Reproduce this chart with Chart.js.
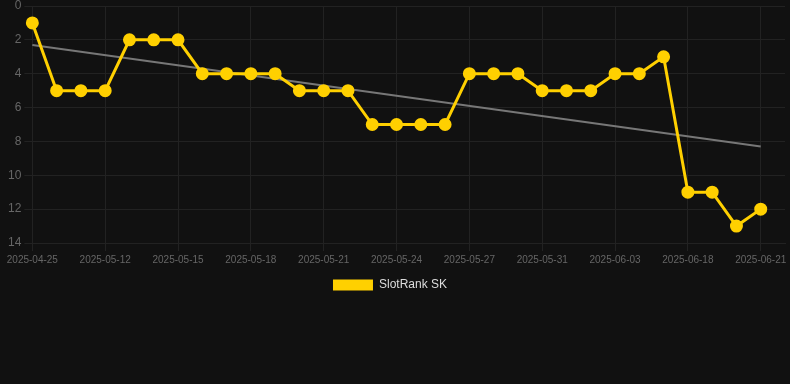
<!DOCTYPE html>
<html>
<head>
<meta charset="utf-8">
<script src="https://cdn.jsdelivr.net/npm/chart.js@4"></script>
<style>
    html, body { margin: 0; padding: 0; background: #111111; }
    #wrap { position: relative; width: 790px; height: 301px; }
</style>
</head>
<body>
<div id="wrap"><canvas id="rankChart"></canvas></div>
<script>
var dates = ["2025-04-25", "2025-05-10", "2025-05-11", "2025-05-12", "2025-05-13", "2025-05-14",
    "2025-05-15", "2025-05-16", "2025-05-17", "2025-05-18", "2025-05-19", "2025-05-20",
    "2025-05-21", "2025-05-22", "2025-05-23", "2025-05-24", "2025-05-25", "2025-05-26",
    "2025-05-27", "2025-05-28", "2025-05-29", "2025-05-31", "2025-06-01", "2025-06-02",
    "2025-06-03", "2025-06-04", "2025-06-10", "2025-06-18", "2025-06-19", "2025-06-20",
    "2025-06-21", "2025-06-22"];
var ranks = [1, 5, 5, 5, 2, 2, 2, 4, 4, 4, 4, 5, 5, 5, 7, 7, 7, 7, 4, 4, 4, 5, 5, 5, 4, 4, 3, 11, 11, 13, 12, null];
// trend line ends; spanGaps joins them
var trend = [2.3, null, null, null, null, null, null, null, null, null, null, null, null, null, null,
    null, null, null, null, null, null, null, null, null, null, null, null, null, null, null, 8.3, null];
var yTicks = [0, 2, 4, 6, 8, 10, 12, 14];

var gridColor = "#222222";
var tickColor = "#666666";
var fontFamily = "Liberation Sans, Arial, sans-serif";

// nudge the legend a little to the left
var legendShift = {
    id: 'legendShift',
    afterLayout: function (chart) {
        if (chart.legend) {
            chart.legend.left -= 5;
            chart.legend.right -= 5;
        }
    }
};

var rankChart = new Chart(document.getElementById("rankChart"), {
    type: 'line',
    data: {
        labels: dates,
        datasets: [{
            label: "SlotRank SK",
            data: ranks,
            borderColor: "#FFD000",
            backgroundColor: "#FFD000",
            borderWidth: 3,
            pointRadius: 5,
            pointHoverRadius: 6,
            tension: 0,
            clip: false
        }, {
            label: "trend",
            data: trend,
            spanGaps: true,
            borderColor: "#777777",
            borderWidth: 2,
            pointRadius: 0,
            fill: false
        }]
    },
    plugins: [legendShift],
    options: {
        responsive: true,
        maintainAspectRatio: false,
        animation: false,
        layout: { autoPadding: false, padding: { top: 6, left: 5, right: 5 } },
        plugins: {
            legend: {
                position: 'bottom',
                labels: {
                    color: "#dddddd",
                    boxWidth: 40,
                    boxHeight: 11,
                    font: { size: 12, family: fontFamily },
                    generateLabels: function (chart) {
                        var items = Chart.defaults.plugins.legend.labels.generateLabels(chart);
                        items.forEach(function (it) { it.lineWidth = 0; });
                        return items;
                    },
                    filter: function (item) { return item.text !== "trend"; }
                }
            },
            tooltip: { enabled: false }
        },
        scales: {
            x: {
                grid: { color: gridColor },
                border: { color: gridColor },
                afterFit: function (axis) { axis.paddingRight = 0; },
                ticks: {
                    color: tickColor,
                    maxRotation: 0,
                    autoSkip: false,
                    font: { size: 10, family: fontFamily },
                    callback: function (val, i) { return i % 3 === 0 ? dates[i] : null; }
                }
            },
            y: {
                reverse: true,
                min: yTicks[0],
                max: yTicks[yTicks.length - 1],
                grid: { color: gridColor },
                border: { color: gridColor },
                afterBuildTicks: function (axis) {
                    axis.ticks = yTicks.map(function (v) { return { value: v }; });
                },
                afterFit: function (axis) { axis.paddingTop = 0; },
                ticks: {
                    color: tickColor,
                    font: { size: 12, family: fontFamily }
                }
            }
        }
    }
});
</script>
</body>
</html>
